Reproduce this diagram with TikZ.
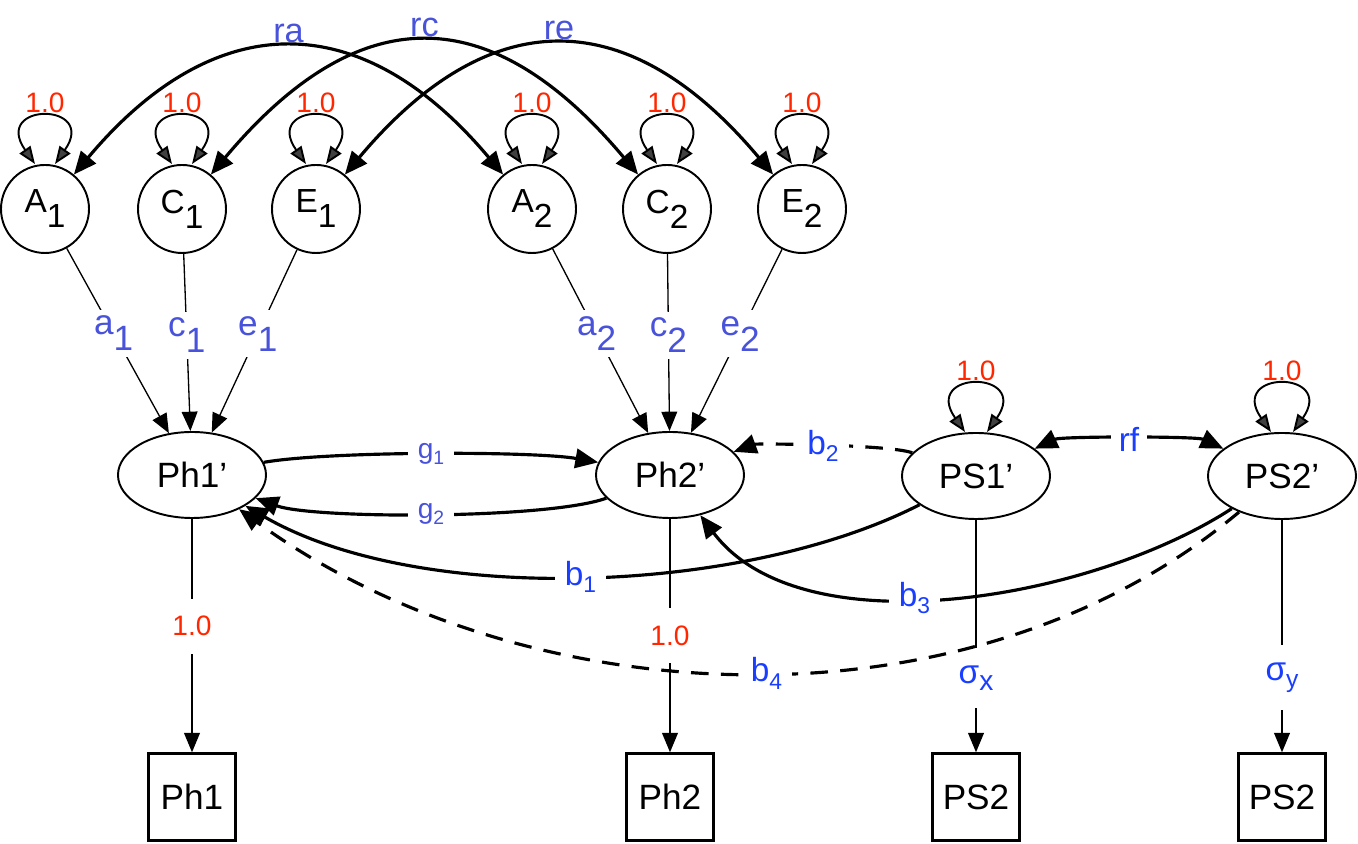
\documentclass[tikz,border=0pt]{standalone}
\usepackage{fontspec}
\setmainfont{Liberation Sans}
\usetikzlibrary{arrows.meta,shapes.geometric}

\definecolor{fixred}{RGB}{255,38,0}
\definecolor{pathblue}{RGB}{72,82,218}
\definecolor{betablue}{RGB}{25,62,255}

% a letter with a full-size digit set low, and a letter with a small index
\newcommand{\lowsub}[2]{#1\raisebox{-0.45em}{#2}}
\newcommand{\smallsub}[3]{#1\raisebox{-0.22em}{\fontsize{#3}{#3}\selectfont #2}}

\begin{document}
\begin{tikzpicture}[x=0.2mm, y=0.2mm,
  every node/.style={font=\fontsize{20}{20}\selectfont},
  latent/.style={circle, draw, line width=1.1pt, minimum size=17.6mm, inner sep=0pt, font=\fontsize{19}{19}\selectfont},
  factor/.style={ellipse, draw, line width=1.1pt, minimum width=29.6mm, minimum height=17.2mm, inner sep=0pt},
  observed/.style={draw, line width=1.4pt, minimum width=17.4mm, minimum height=17.4mm, inner sep=1.5mm},
  onelbl/.style={text=fixred, inner sep=2pt, font=\fontsize{16}{16}\selectfont},
  cutlbl/.style={fill=white, inner xsep=1mm, inner ysep=3.5mm},
  pathlbl/.style={text=pathblue, fill=white, inner sep=1.2mm},
  corrlbl/.style={text=pathblue, inner sep=2pt, font=\fontsize{19.5}{19.5}\selectfont},
  glbl/.style={text=pathblue, fill=white, inner sep=2mm, font=\fontsize{16}{16}\selectfont},
  betalbl/.style={text=betablue, fill=white, inner sep=2mm, font=\fontsize{19}{19}\selectfont},
  loadarr/.style={line width=0.75pt, -{Triangle[length=11pt, width=9pt]}},
  regr/.style={line width=1.8pt, -{Triangle[length=13pt, width=11pt]}},
  covar/.style={line width=1.8pt, {Triangle[length=13pt, width=11pt]}-{Triangle[length=13pt, width=11pt]}},
  dashregr/.style={regr, dash pattern=on 10pt off 7pt},
  varloop/.style={line width=1.1pt, {Triangle[length=10pt, width=7.5pt, fill=black!75]}-{Triangle[length=10pt, width=7.5pt, fill=black!75]}}]
  \useasboundingbox (0,0) rectangle (1358,844);

  % genetic and environmental factors
  \node[latent] (A1) at (45,635) {\lowsub{A}{1}};
  \node[latent] (C1) at (182,635) {\lowsub{C}{1}};
  \node[latent] (E1) at (316,635) {\lowsub{E}{1}};
  \node[latent] (A2) at (532,635) {\lowsub{A}{2}};
  \node[latent] (C2) at (667,635) {\lowsub{C}{2}};
  \node[latent] (E2) at (802,635) {\lowsub{E}{2}};

  % phenotypes and measures
  \node[factor] (LPh1) at (192,369) {Ph1’};
  \node[factor] (LPh2) at (670,369) {Ph2’};
  \node[factor] (LPS1) at (976,368) {PS1’};
  \node[factor] (LPS2) at (1282,368) {PS2’};
  \node[observed] (Ph1) at (192,47) {Ph1};
  \node[observed] (Ph2) at (670,47) {Ph2};
  \node[observed] (PSx) at (976,47) {PS2};
  \node[observed] (PSy) at (1282,47) {PS2};

  % variances
  \draw[varloop] ([xshift=-2mm]A1.north) .. controls +(125:76) and +(55:76) .. ([xshift=2mm]A1.north) node[midway, above, onelbl] {1.0};
  \draw[varloop] ([xshift=-2mm]C1.north) .. controls +(125:76) and +(55:76) .. ([xshift=2mm]C1.north) node[midway, above, onelbl] {1.0};
  \draw[varloop] ([xshift=-2mm]E1.north) .. controls +(125:76) and +(55:76) .. ([xshift=2mm]E1.north) node[midway, above, onelbl] {1.0};
  \draw[varloop] ([xshift=-2mm]A2.north) .. controls +(125:76) and +(55:76) .. ([xshift=2mm]A2.north) node[midway, above, onelbl] {1.0};
  \draw[varloop] ([xshift=-2mm]C2.north) .. controls +(125:76) and +(55:76) .. ([xshift=2mm]C2.north) node[midway, above, onelbl] {1.0};
  \draw[varloop] ([xshift=-2mm]E2.north) .. controls +(125:76) and +(55:76) .. ([xshift=2mm]E2.north) node[midway, above, onelbl] {1.0};
  \draw[varloop] ([xshift=-2.2mm]LPS1.north) .. controls +(125:76) and +(55:76) .. ([xshift=2.2mm]LPS1.north) node[midway, above, onelbl] {1.0};
  \draw[varloop] ([xshift=-2.2mm]LPS2.north) .. controls +(125:76) and +(55:76) .. ([xshift=2.2mm]LPS2.north) node[midway, above, onelbl] {1.0};

  % cross-twin correlations
  \draw[covar] (A1) .. controls +(50:265) and +(130:265) .. (A2) node[pos=0.5, above, corrlbl] {ra};
  \draw[covar] (C1) .. controls +(50:275) and +(130:275) .. (C2) node[pos=0.5, above, corrlbl] {rc};
  \draw[covar] (E1) .. controls +(50:270) and +(130:270) .. (E2) node[pos=0.5, above, corrlbl] {re};

  % paths
  \draw[loadarr] (A1) -- node[pathlbl, pos=0.46] {\lowsub{a}{1}} (LPh1);
  \draw[loadarr] (C1) -- node[pathlbl, pos=0.46] {\lowsub{c}{1}} (LPh1);
  \draw[loadarr] (E1) -- node[pathlbl, pos=0.46] {\lowsub{e}{1}} (LPh1);
  \draw[loadarr] (A2) -- node[pathlbl, pos=0.46] {\lowsub{a}{2}} (LPh2);
  \draw[loadarr] (C2) -- node[pathlbl, pos=0.46] {\lowsub{c}{2}} (LPh2);
  \draw[loadarr] (E2) -- node[pathlbl, pos=0.46] {\lowsub{e}{2}} (LPh2);

  \draw[loadarr] (LPh1) -- node[onelbl, cutlbl, pos=0.46] {1.0} (Ph1);
  \draw[loadarr] (LPh2) -- node[onelbl, cutlbl, pos=0.5] {1.0} (Ph2);
  \draw[loadarr] (LPS1) -- node[betalbl, cutlbl, pos=0.68] {\smallsub{σ}{x}{16}} (PSx);
  \draw[loadarr] (LPS2) -- node[betalbl, cutlbl, pos=0.68] {\smallsub{σ}{y}{14}} (PSy);

  % causal paths
  \draw[regr] (LPh1) to[out=10, in=170, looseness=0.5] node[glbl] {\smallsub{g}{1}{11}} (LPh2);
  \draw[regr] (LPh2) to[out=200, in=-20, looseness=0.45] node[glbl] {\smallsub{g}{2}{11}} (LPh1);
  \draw[dashregr] (LPS1) to[out=160, in=20, looseness=0.35] node[betalbl] {\smallsub{b}{2}{13}} (LPh2);
  \draw[covar] (LPS1) to[out=25, in=155, looseness=0.4] node[betalbl, inner sep=1.6mm] {rf} (LPS2);
  \draw[regr] (LPS1) to[out=207, in=-30, looseness=0.76] node[betalbl] {\smallsub{b}{1}{13}} (LPh1);
  \draw[regr] (LPS2) to[out=213, in=-53, looseness=0.81] node[betalbl, pos=0.56] {\smallsub{b}{3}{13}} (LPh2);
  \draw[dashregr] (LPS2) to[out=220, in=-36, looseness=0.9] node[betalbl, pos=0.48] {\smallsub{b}{4}{13}} (LPh1);
\end{tikzpicture}
\end{document}
